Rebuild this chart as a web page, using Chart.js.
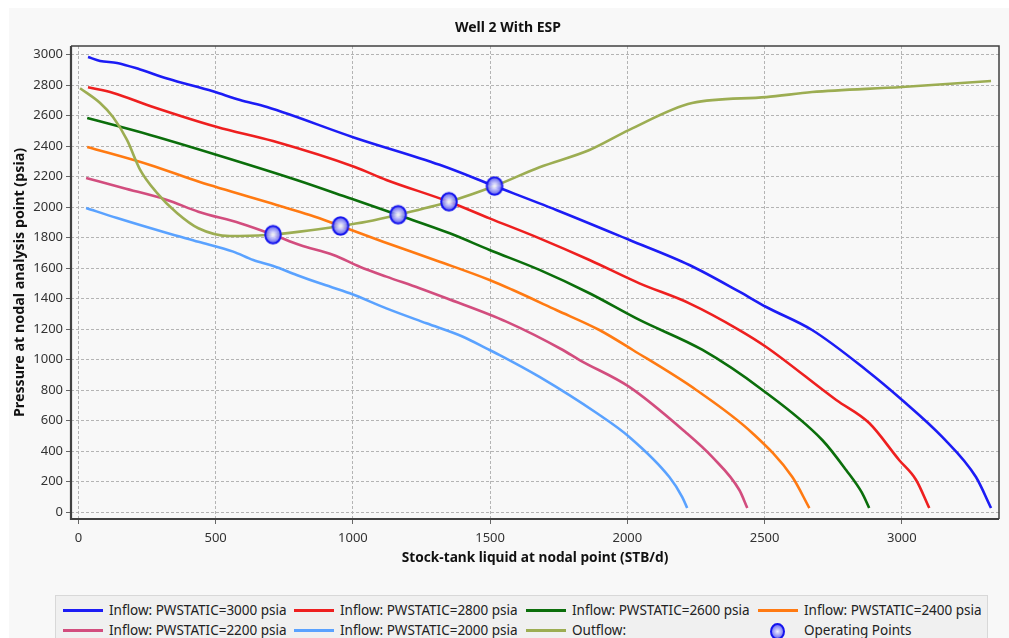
<!DOCTYPE html>
<html><head><meta charset="utf-8">
<script src="https://cdn.jsdelivr.net/npm/chart.js@4.4.0/dist/chart.umd.min.js"></script>
<style>
html,body{margin:0;padding:0;background:#fff;width:1009px;height:638px;overflow:hidden;}
#panel{position:absolute;left:9px;top:8px;width:1000px;height:630px;background:#f8f8f8;}
#c{position:absolute;left:0;top:0;}
#legend{position:absolute;left:55px;top:595px;width:931px;height:50px;background:#f0f0f0;border:1px solid #d8d8d8;font:13.5px "Noto Sans",sans-serif;color:#222;}
.item{position:absolute;height:20px;line-height:20px;white-space:nowrap}
.sw{position:absolute;left:0;top:9px;width:40px;height:3px}
.dot{position:absolute;left:12px;top:3px;width:11px;height:13px;border-radius:50%;border:2px solid #1515ee;background:radial-gradient(circle,#f0f0ff 0%,#4848f0 100%);}
.lab{position:absolute;left:46px;top:0}
</style></head>
<body>
<div id="panel"></div>
<canvas id="c" width="1009" height="638"></canvas>
<div id="legend"></div>
<script>
// ---- data ----
const titleText = "Well 2 With ESP";
const xTitle = "Stock-tank liquid at nodal point (STB/d)";
const yTitle = "Pressure at nodal analysis point (psia)";
const xTickValues = [0, 500, 1000, 1500, 2000, 2500, 3000];
const yTickValues = [0, 200, 400, 600, 800, 1000, 1200, 1400, 1600, 1800, 2000, 2200, 2400, 2600, 2800, 3000];

const inflow3000 = [[35,2985],[79,2959],[141,2946],[225,2903],[323,2844],[490,2760],[589,2703],[687,2657],[1006,2456],[1316,2278],[1516,2139],[1741,1982],[2008,1785],[2226,1621],[2408,1446],[2506,1346],[2673,1195],[2870,933],[3001,736],[3147,494],[3270,231],[3325,28]];
const inflow2800 = [[35,2786],[127,2749],[261,2664],[505,2526],[709,2434],[1007,2264],[1122,2179],[1350,2036],[1498,1927],[1680,1796],[1862,1654],[2044,1501],[2226,1370],[2408,1195],[2506,1084],[2761,736],[2881,585],[2990,343],[3052,212],[3100,28]];
const inflow2600 = [[32,2585],[261,2474],[505,2343],[795,2179],[989,2059],[1165,1949],[1353,1829],[1498,1720],[1680,1589],[1862,1436],[2044,1261],[2274,1064],[2492,802],[2710,474],[2797,277],[2855,127],[2881,28]];
const inflow2400 = [[32,2395],[261,2277],[437,2168],[722,2015],[843,1949],[955,1877],[1110,1774],[1316,1643],[1498,1523],[1583,1457],[1741,1326],[1898,1195],[2020,1064],[2251,802],[2455,520],[2601,231],[2663,28]];
const inflow2200 = [[28,2192],[163,2126],[323,2048],[437,1971],[589,1895],[709,1820],[807,1752],[929,1687],[1025,1610],[1122,1545],[1243,1469],[1341,1403],[1559,1250],[1765,1064],[1826,998],[2007,822],[2215,520],[2309,363],[2408,146],[2437,28]];
const inflow2000 = [[28,1995],[141,1929],[323,1831],[437,1774],[564,1709],[637,1654],[710,1615],[795,1556],[880,1501],[989,1436],[1122,1337],[1268,1239],[1401,1151],[1498,1064],[1535,1031],[1680,888],[1888,651],[2007,494],[2153,231],[2200,100],[2218,28]];
const outflow = [[6,2780],[79,2683],[126,2591],[177,2441],[225,2245],[286,2094],[359,1962],[437,1862],[552,1811],[686,1818],[807,1840],[955,1877],[1049,1905],[1165,1951],[1350,2036],[1516,2139],[1680,2262],[1862,2375],[2007,2507],[2236,2683],[2506,2722],[2673,2755],[3001,2788],[3325,2828]];
const operatingPoints = [[709,1820],[955,1877],[1165,1951],[1350,2036],[1516,2139]];

const seriesNames = ["Inflow: PWSTATIC=3000 psia","Inflow: PWSTATIC=2800 psia","Inflow: PWSTATIC=2600 psia","Inflow: PWSTATIC=2400 psia","Inflow: PWSTATIC=2200 psia","Inflow: PWSTATIC=2000 psia","Outflow:","Operating Points"];
const seriesColors = ["#1c1cf5","#ee1f1f","#0b6e0b","#ff7a12","#d24d7e","#5aa2ff","#9cad52","#1515ee"];
// -----------------------------------------

const FONT = "'Noto Sans', sans-serif";
const toXY = arr => arr.map(p => ({x:p[0], y:p[1]}));
const lineSeries = [inflow3000, inflow2800, inflow2600, inflow2400, inflow2200, inflow2000, outflow];

// marker image for operating points
const pc = document.createElement('canvas'); pc.width = 20; pc.height = 22;
(function(){
  const g = pc.getContext('2d');
  const grad = g.createRadialGradient(10,11,1,10,11,9);
  grad.addColorStop(0,'rgba(240,240,255,0.95)');
  grad.addColorStop(1,'rgba(70,70,235,0.9)');
  g.fillStyle = grad;
  g.beginPath(); g.ellipse(10,11,7.8,8.8,0,0,Math.PI*2); g.fill();
  g.lineWidth = 2; g.strokeStyle = '#1515ee'; g.stroke();
})();

const datasets = lineSeries.map((s,i) => ({
  label: seriesNames[i], data: toXY(s), borderColor: seriesColors[i], backgroundColor: seriesColors[i],
  borderWidth: 2.6, pointRadius: 0, showLine: true, fill: false, cubicInterpolationMode: 'monotone', order: i === 6 ? 1 : 2
}));
datasets.push({label: seriesNames[7], data: toXY(operatingPoints), pointStyle: pc, pointRadius: 9, showLine: false, order: -1});

const frame = {
  id: 'frame',
  afterDraw(chart){
    const {ctx, chartArea:a} = chart;
    ctx.save();
    ctx.strokeStyle = '#404040';
    ctx.lineWidth = 1.5;
    ctx.beginPath(); ctx.moveTo(a.left, a.top); ctx.lineTo(a.right, a.top); ctx.lineTo(a.right, a.bottom); ctx.stroke();
    ctx.lineWidth = 2.2;
    ctx.beginPath(); ctx.moveTo(a.left, a.top); ctx.lineTo(a.left, a.bottom); ctx.lineTo(a.right, a.bottom); ctx.stroke();
    ctx.fillStyle = '#111';
    ctx.font = "bold 14px " + FONT;
    ctx.textAlign = 'center'; ctx.textBaseline = 'middle';
    ctx.fillText(titleText, 508, 28);
    ctx.restore();
  }
};

const gridOpts = {color: '#b4b4b4', lineWidth: 1, tickLength: 5, tickColor: '#666', tickBorderDash: []};
const borderOpts = {display: false, dash: [3,2]};

new Chart(document.getElementById('c'), {
  type: 'scatter',
  data: {datasets},
  options: {
    responsive: false, animation: false, events: [],
    layout: {padding: {left: 0, top: 46, right: 9, bottom: 0}},
    plugins: {legend: {display: false}, tooltip: {enabled: false}, title: {display: false}},
    scales: {
      x: {
        type: 'linear', min: -27, max: 3354,
        afterFit: s => { s.height = 119; },
        afterBuildTicks: s => { s.ticks = xTickValues.map(v => ({value: v})); },
        border: borderOpts,
        grid: gridOpts,
        ticks: {font: {size: 13, family: FONT}, color: '#333', padding: 6, maxRotation: 0, callback: v => String(v)},
        title: {display: true, text: xTitle, font: {size: 13.7, weight: 'bold', family: FONT}, color: '#111', padding: {top: 0, bottom: 72}}
      },
      y: {
        type: 'linear', min: -44, max: 3057,
        afterFit: s => { s.width = 71; },
        afterBuildTicks: s => { s.ticks = yTickValues.map(v => ({value: v})); },
        border: borderOpts,
        grid: gridOpts,
        ticks: {font: {size: 13, family: FONT}, color: '#333', padding: 3, callback: v => String(v)},
        title: {display: true, text: yTitle, font: {size: 14.3, weight: 'bold', family: FONT}, color: '#111', padding: {top: 11, bottom: 0}}
      }
    }
  },
  plugins: [frame]
});

// legend (HTML text)
const legendPos = [[7,4],[238,4],[470,4],[702,4],[7,24],[238,24],[470,24],[702,24]];
const lg = document.getElementById('legend');
seriesNames.forEach((n,i) => {
  const d = document.createElement('div');
  d.className = 'item';
  d.style.left = legendPos[i][0] + 'px'; d.style.top = legendPos[i][1] + 'px';
  const sw = document.createElement('div');
  if (i === 7) { sw.className = 'dot'; } else { sw.className = 'sw'; sw.style.background = seriesColors[i]; }
  const t = document.createElement('span'); t.className = 'lab'; t.textContent = n;
  d.appendChild(sw); d.appendChild(t); lg.appendChild(d);
});
</script>
</body></html>
